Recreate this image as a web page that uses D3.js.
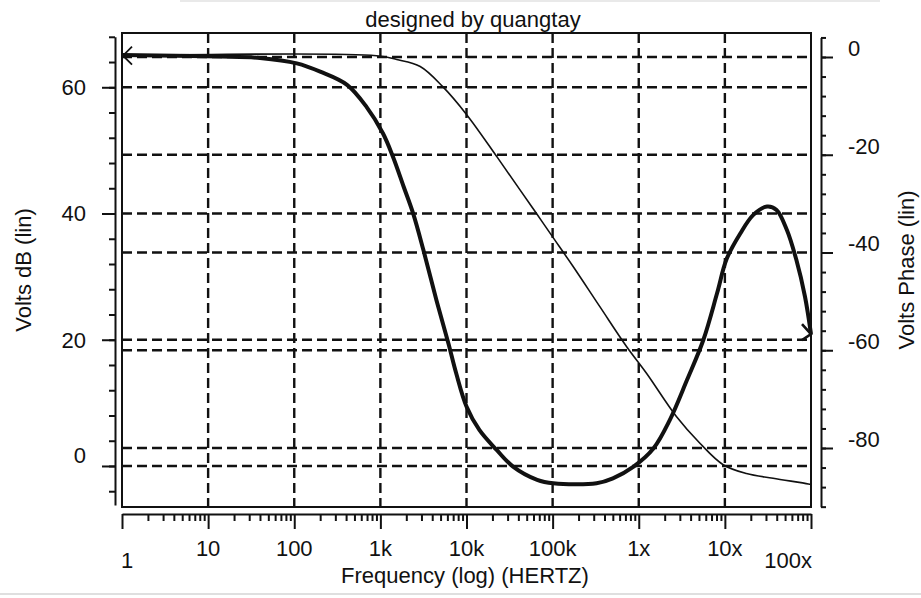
<!DOCTYPE html>
<html><head><meta charset="utf-8">
<script src="https://cdn.jsdelivr.net/npm/d3@7"></script>
<style>
body{margin:0;background:#fff}
svg{display:block}
text{font-family:"Liberation Sans",Arial,sans-serif;fill:#111;font-size:22px}
</style>
</head><body>
<svg id="c" width="921" height="598"></svg>
<script>
// ---- data ----
const titleText = "designed by quangtay";
const xTitle = "Frequency (log) (HERTZ)";
const yLeftTitle = "Volts dB (lin)";
const yRightTitle = "Volts Phase (lin)";
const xTickValues = [1, 10, 100, 1e3, 1e4, 1e5, 1e6, 1e7, 1e8];
const xTickLabels = ["1", "10", "100", "1k", "10k", "100k", "1x", "10x", "100x"];
const leftTickLabels = [0, 20, 40, 60];
const rightTickLabels = [0, -20, -40, -60, -80];

// thin trace: gain (dB, left axis)
const gainFreq = [1, 900, 1550, 2900, 5300, 10000, 22000, 42000, 65000, 100000, 173000, 355000, 724000, 1230000, 2750000, 5130000, 9550000, 17800000, 36300000, 93000000, 100000000];
const gainDb = [65.0, 65.0, 64.4, 63.3, 60.1, 55.7, 49.2, 43.7, 40.0, 36.3, 31.6, 25.2, 18.9, 14.7, 7.8, 3.6, 0.2, -1.2, -1.95, -2.85, -2.95];

// thick trace: phase (deg, right axis)
const phaseFreq = [1, 14, 40, 107, 200, 410, 690, 1070, 1400, 1860, 2400, 3160, 4470, 6170, 7590, 10000, 14100, 22400, 34700, 66100, 102000, 324000, 501000, 871000, 1480000, 2290000, 3630000, 5620000, 8130000, 10500000, 15100000, 21400000, 30900000, 39800000, 52500000, 67600000, 85100000, 100000000];
const phaseDeg = [0.4, 0.1, -0.2, -1.3, -3.0, -5.7, -10.2, -15.6, -20.4, -26.5, -32.0, -39.5, -49.7, -58.6, -64.7, -71.5, -76.3, -80.4, -83.8, -86.5, -87.2, -87.2, -86.2, -83.8, -80.1, -74.3, -66.1, -57.9, -48.3, -41.3, -36.1, -32.3, -30.6, -31.3, -35.4, -41.5, -49.0, -56.7];

// ---- layout ----
const W = 921, H = 598;
const L = 122, R = 811, T = 33, B = 507;
const svg = d3.select("#c");

// scan artefact lines
svg.append("line").attr("x1",0).attr("x2",W).attr("y1",594).attr("y2",594)
  .attr("stroke","#d4d4d4").attr("stroke-width",1.5);
svg.append("line").attr("x1",180).attr("x2",880).attr("y1",1).attr("y2",1)
  .attr("stroke","#e2e2e2").attr("stroke-width",1.5);

const x = d3.scaleLog().domain([1, 1e8]).range([L, R]);
const yL = d3.scaleLinear().domain([-6.5, 68.6]).range([B, T]);
const yR = d3.scaleLinear().domain([-92.07, 4.91]).range([B, T]);

// ---- grid ----
const grid = svg.append("g").attr("stroke","#111").attr("stroke-width",2.4)
  .attr("stroke-dasharray","10,5").attr("fill","none");
xTickValues.slice(1, -1).forEach(v => {
  grid.append("line").attr("x1", x(v)).attr("x2", x(v)).attr("y1", T).attr("y2", B);
});
leftTickLabels.forEach(v => {
  grid.append("line").attr("x1", L).attr("x2", R).attr("y1", yL(v)).attr("y2", yL(v));
});
rightTickLabels.forEach(v => {
  grid.append("line").attr("x1", L).attr("x2", R).attr("y1", yR(v)).attr("y2", yR(v));
});

// ---- frame ----
svg.append("rect").attr("x", L).attr("y", T).attr("width", R - L).attr("height", B - T)
  .attr("fill","none").attr("stroke","#111").attr("stroke-width",2);

// ---- x axis (separate, below frame) ----
const xAxisY = 514;
const minorX = [];
for (let d = 0; d < 8; d++) for (let m = 2; m <= 9; m++) minorX.push(m * Math.pow(10, d));
const gxMinor = svg.append("g").attr("transform", `translate(0,${xAxisY})`)
  .call(d3.axisBottom(x).tickValues(minorX).tickSize(7).tickSizeOuter(0).tickFormat(""));
const gxMajor = svg.append("g").attr("transform", `translate(0,${xAxisY})`)
  .call(d3.axisBottom(x).tickValues(xTickValues).tickSize(15).tickSizeOuter(0).tickFormat(""));
gxMajor.select(".domain").remove();
[gxMinor, gxMajor].forEach(g => {
  g.selectAll("line").attr("stroke","#111").attr("stroke-width",2);
  g.select(".domain").attr("stroke","#111").attr("stroke-width",2);
});
xTickValues.forEach((v, i) => {
  const first = i === 0, last = i === xTickValues.length - 1;
  svg.append("text")
    .attr("x", first ? x(v) - 1 : last ? x(v) + 1 : x(v))
    .attr("y", (first || last) ? 568 : 556)
    .attr("text-anchor", first ? "start" : last ? "end" : "middle")
    .text(xTickLabels[i]);
});
svg.append("text").attr("x", 465).attr("y", 583).attr("text-anchor","middle").text(xTitle);

// ---- left axis ----
const yLaxisScale = yL.copy().domain([-6.2, 68]).range([yL(-6.2), yL(68)]);
const gl1 = svg.append("g").attr("transform","translate(115,0)")
  .call(d3.axisLeft(yLaxisScale).tickValues(d3.range(-4, 69, 4)).tickSize(6).tickSizeOuter(0).tickFormat(""));
const gl2 = svg.append("g").attr("transform","translate(115,0)")
  .call(d3.axisLeft(yLaxisScale).tickValues(leftTickLabels).tickSize(13).tickSizeOuter(0).tickFormat(""));
gl2.select(".domain").remove();
[gl1, gl2].forEach(g => {
  g.selectAll("line").attr("stroke","#111").attr("stroke-width",2);
  g.select(".domain").attr("stroke","#111").attr("stroke-width",2);
});
leftTickLabels.forEach(v => {
  svg.append("text").attr("x", 86).attr("y", yL(v) + (v === 0 ? -11 : 0)).attr("dy","0.36em")
    .attr("text-anchor","end").text(v);
});
svg.append("text").attr("transform", `translate(31,${(T + B) / 2}) rotate(-90)`)
  .attr("text-anchor","middle").text(yLeftTitle);

// ---- right axis ----
const yRaxisScale = yR.copy().domain([-92, 4]).range([yR(-92), yR(4)]);
const gr1 = svg.append("g").attr("transform","translate(821,0)")
  .call(d3.axisRight(yRaxisScale).tickValues(d3.range(-92, 5, 4)).tickSize(5).tickSizeOuter(0).tickFormat(""));
const gr2 = svg.append("g").attr("transform","translate(821,0)")
  .call(d3.axisRight(yRaxisScale).tickValues(rightTickLabels).tickSize(12).tickSizeOuter(0).tickFormat(""));
gr2.select(".domain").remove();
[gr1, gr2].forEach(g => {
  g.selectAll("line").attr("stroke","#111").attr("stroke-width",2);
  g.select(".domain").attr("stroke","#111").attr("stroke-width",2);
});
rightTickLabels.forEach(v => {
  svg.append("text").attr("x", 848).attr("y", yR(v) - 9).attr("dy","0.36em")
    .attr("text-anchor","start").text(v === 0 ? "0" : "-" + Math.abs(v));
});
svg.append("text").attr("transform", `translate(914,${(T + B) / 2}) rotate(-90)`)
  .attr("text-anchor","middle").text(yRightTitle);

// ---- title ----
svg.append("text").attr("x", 473).attr("y", 27).attr("text-anchor","middle").text(titleText);

// ---- traces ----
const gain = gainFreq.map((f, i) => ({f, v: gainDb[i]}));
const phase = phaseFreq.map((f, i) => ({f, v: phaseDeg[i]}));
const lineL = d3.line().x(d => x(d.f)).y(d => yL(d.v)).curve(d3.curveCatmullRom.alpha(0.5));
const lineR = d3.line().x(d => x(d.f)).y(d => yR(d.v)).curve(d3.curveCatmullRom.alpha(0.5));

svg.append("path").datum(phase).attr("d", lineR).attr("fill","none")
  .attr("stroke","#111").attr("stroke-width",4).attr("stroke-linejoin","round");
svg.append("path").datum(gain).attr("d", lineL).attr("fill","none")
  .attr("stroke","#111").attr("stroke-width",1.6);

// axis arrows: "<" on gain start (left axis), ">" on phase end (right axis)
const g0x = x(gain[0].f), g0y = yL(gain[0].v);
svg.append("path").attr("d", `M${g0x + 10},${g0y - 9}L${g0x + 1},${g0y}L${g0x + 10},${g0y + 9}`)
  .attr("fill","none").attr("stroke","#111").attr("stroke-width",1.8);
const pe = phase[phase.length - 1];
const pex = x(pe.f), pey = yR(pe.v);
svg.append("path").attr("d", `M${pex - 9},${pey - 10}L${pex},${pey}L${pex - 9},${pey + 6}`)
  .attr("fill","none").attr("stroke","#111").attr("stroke-width",2.6);
</script>
</body></html>
